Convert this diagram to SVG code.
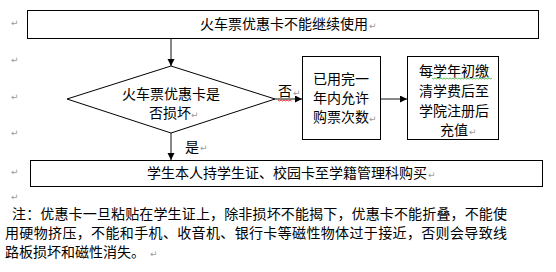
<svg xmlns="http://www.w3.org/2000/svg" width="556" height="272" viewBox="0 0 556 272">
<style>
.t{font-family:"Noto Sans CJK SC","Noto Sans",sans-serif;font-size:14px;fill:#000}
.pm{font-family:"DejaVu Sans",sans-serif;font-size:9px;fill:#9a9a9a}
.box{fill:#fff;stroke:#000;stroke-width:1}
.c{stroke:#111;stroke-width:1;fill:none}
.sq{fill:none;stroke-width:0.8}
</style>
<defs>
<marker id="ah" markerUnits="userSpaceOnUse" markerWidth="8" markerHeight="8" refX="7" refY="3.5" orient="auto">
<path d="M0,0 L7,3.5 L0,7 z" fill="#000"/>
</marker>
</defs>
<rect width="556" height="272" fill="#fff"/>
<g id="margin-marks" class="pm">
<text x="11" y="26">↵</text>
<text x="11" y="63">↵</text>
<text x="11" y="100">↵</text>
<text x="11" y="136">↵</text>
<text x="11" y="175">↵</text>
<text x="11" y="200">↵</text>
</g>
<g id="connectors">
<line class="c" x1="171" y1="38.5" x2="171" y2="66" marker-end="url(#ah)"/>
<line class="c" x1="275" y1="99" x2="302" y2="99" marker-end="url(#ah)"/>
<line class="c" x1="381" y1="99" x2="407" y2="99" marker-end="url(#ah)"/>
<line class="c" x1="171" y1="133" x2="171" y2="160" marker-end="url(#ah)"/>
<text class="t" x="278" y="96">否</text><text class="pm" x="293" y="96">↵</text>
<path class="sq" stroke="#e00" d="M278,100 l1.5,1 l1.5,-1 l1.5,1 l1.5,-1 l1.5,1 l1.5,-1 l1.5,1 l1.5,-1 l1.5,1"/>
<text class="t" x="185" y="152">是</text><text class="pm" x="200" y="151">↵</text>
</g>
<g id="top">
<rect class="box" x="27.5" y="10.5" width="511" height="28"/>
<text class="t" x="200" y="29">火车票优惠卡不能继续使用</text><text class="pm" x="369" y="29">↵</text>
</g>
<g id="decision">
<polygon class="box" points="171,66 275,99 171,133 67,99"/>
<text class="t" x="122" y="98.5">火车票优惠卡是</text>
<text class="t" x="149" y="117.5">否损坏</text><text class="pm" x="191" y="117.5">↵</text>
</g>
<g id="used">
<rect class="box" x="302.5" y="56.5" width="78" height="83"/>
<text class="t" x="313" y="84">已用完一</text>
<text class="t" x="313" y="103">年内允许</text>
<text class="t" x="313" y="122">购票次数</text><text class="pm" x="369" y="122">↵</text>
</g>
<g id="recharge">
<rect class="box" x="407.5" y="56.5" width="91" height="83"/>
<text class="t" x="454" y="76" text-anchor="middle">每学年初缴</text>
<path class="sq" stroke="#3a3" d="M432,78 l1.5,1 l1.5,-1 l1.5,1 l1.5,-1 l1.5,1 l1.5,-1 l1.5,1 l1.5,-1 l1.5,1 l1.5,-1 l1.5,1 l1.5,-1 l1.5,1 l1.5,-1 l1.5,1 l1.5,-1 l1.5,1 l1.5,-1 l1.5,1 l1.5,-1 l1.5,1 l1.5,-1 l1.5,1 l1.5,-1 l1.5,1 l1.5,-1 l1.5,1 l1.5,-1 l1.5,1 l1.5,-1 l1.5,1 l1.5,-1 l1.5,1 l1.5,-1 l1.5,1 l1.5,-1 l1.5,1 l1.5,-1 l1.5,1 l1.5,-1"/>
<text class="t" x="454" y="96" text-anchor="middle">清学费后至</text>
<text class="t" x="454" y="116" text-anchor="middle">学院注册后</text>
<text class="t" x="440" y="135">充值</text><text class="pm" x="469" y="135">↵</text>
</g>
<g id="buy">
<rect class="box" x="30.5" y="160.5" width="512" height="26"/>
<text class="t" x="147" y="178">学生本人持学生证、校园卡至学籍管理科购买</text><text class="pm" x="428" y="178">↵</text>
</g>
<g id="note">
<text class="t" x="12" y="219" textLength="495" lengthAdjust="spacing">注：优惠卡一旦粘贴在学生证上，除非损坏不能揭下，优惠卡不能折叠，不能使</text>
<text class="t" x="5" y="238" textLength="502" lengthAdjust="spacing">用硬物挤压，不能和手机、收音机、银行卡等磁性物体过于接近，否则会导致线</text>
<text class="t" x="5" y="257">路板损坏和磁性消失。</text><text class="pm" x="150" y="257">↵</text>
</g>
</svg>
